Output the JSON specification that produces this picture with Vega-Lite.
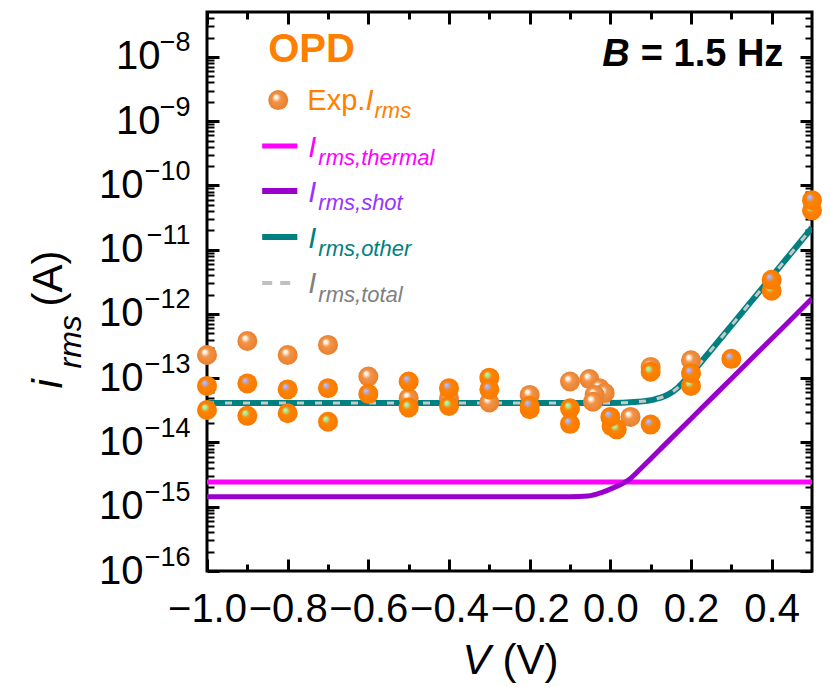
{
  "$schema": "https://vega.github.io/schema/vega-lite/v6.json",
  "width": 605,
  "height": 559,
  "autosize": "none",
  "padding": {"left": 207, "top": 12, "right": 19, "bottom": 116},
  "background": "white",
  "config": {
    "font": "Liberation Sans",
    "view": {"stroke": "black", "strokeWidth": 3},
    "axis": {"labelColor": "black", "titleColor": "black", "tickColor": "black", "grid": false, "domain": false, "labelFont": "Liberation Sans", "titleFont": "Liberation Sans", "titleFontWeight": "normal"}
  },
  "datasets": {
    "lines": [
      {"series": "thermal", "V": -1.0, "I": 2.42e-15},
      {"series": "thermal", "V": 0.5, "I": 2.42e-15},
      {"series": "shot", "V": -1.0, "I": 1.43e-15},
      {"series": "shot", "V": -0.1, "I": 1.43e-15},
      {"series": "shot", "V": -0.055, "I": 1.47e-15},
      {"series": "shot", "V": -0.022, "I": 1.66e-15},
      {"series": "shot", "V": 0.01, "I": 2.0e-15},
      {"series": "shot", "V": 0.045, "I": 2.6e-15},
      {"series": "shot", "V": 0.077, "I": 4.0e-15},
      {"series": "shot", "V": 0.144, "I": 1.05e-14},
      {"series": "shot", "V": 0.226, "I": 3.4e-14},
      {"series": "shot", "V": 0.308, "I": 1.1e-13},
      {"series": "shot", "V": 0.425, "I": 5.9e-13},
      {"series": "shot", "V": 0.5, "I": 1.74e-12},
      {"series": "other", "V": -1.0, "I": 4.1e-14},
      {"series": "other", "V": 0.0, "I": 4.12e-14},
      {"series": "other", "V": 0.06, "I": 4.27e-14},
      {"series": "other", "V": 0.11, "I": 4.7e-14},
      {"series": "other", "V": 0.144, "I": 5.6e-14},
      {"series": "other", "V": 0.168, "I": 7.2e-14},
      {"series": "other", "V": 0.19, "I": 1.0e-13},
      {"series": "other", "V": 0.21, "I": 1.38e-13},
      {"series": "other", "V": 0.25, "I": 2.75e-13},
      {"series": "other", "V": 0.3, "I": 6.6e-13},
      {"series": "other", "V": 0.4, "I": 3.8e-12},
      {"series": "other", "V": 0.5, "I": 2.2e-11},
      {"series": "total", "V": -1.0, "I": 4.1e-14},
      {"series": "total", "V": 0.0, "I": 4.12e-14},
      {"series": "total", "V": 0.06, "I": 4.27e-14},
      {"series": "total", "V": 0.11, "I": 4.7e-14},
      {"series": "total", "V": 0.144, "I": 5.6e-14},
      {"series": "total", "V": 0.168, "I": 7.2e-14},
      {"series": "total", "V": 0.19, "I": 1.0e-13},
      {"series": "total", "V": 0.21, "I": 1.38e-13},
      {"series": "total", "V": 0.25, "I": 2.75e-13},
      {"series": "total", "V": 0.3, "I": 6.6e-13},
      {"series": "total", "V": 0.4, "I": 3.8e-12},
      {"series": "total", "V": 0.5, "I": 2.2e-11}
    ],
    "balls": [
      {"type": "w", "V": -1.0, "I": 2.3e-13},
      {"type": "b", "V": -1.0, "I": 7.6e-14},
      {"type": "g", "V": -1.0, "I": 3.2e-14},
      {"type": "w", "V": -0.9, "I": 3.8e-13},
      {"type": "b", "V": -0.9, "I": 8.3e-14},
      {"type": "g", "V": -0.9, "I": 2.6e-14},
      {"type": "w", "V": -0.8, "I": 2.3e-13},
      {"type": "b", "V": -0.8, "I": 6.7e-14},
      {"type": "g", "V": -0.8, "I": 2.85e-14},
      {"type": "w", "V": -0.7, "I": 3.3e-13},
      {"type": "b", "V": -0.7, "I": 7.0e-14},
      {"type": "g", "V": -0.7, "I": 2.1e-14},
      {"type": "w", "V": -0.6, "I": 1.06e-13},
      {"type": "b", "V": -0.6, "I": 5.7e-14},
      {"type": "b", "V": -0.5, "I": 8.9e-14},
      {"type": "w", "V": -0.5, "I": 4.9e-14},
      {"type": "g", "V": -0.5, "I": 3.5e-14},
      {"type": "b", "V": -0.4, "I": 7.0e-14},
      {"type": "w", "V": -0.4, "I": 4.9e-14},
      {"type": "g", "V": -0.4, "I": 3.7e-14},
      {"type": "g", "V": -0.3, "I": 1.02e-13},
      {"type": "b", "V": -0.3, "I": 6.7e-14},
      {"type": "w", "V": -0.3, "I": 4.2e-14},
      {"type": "w", "V": -0.2, "I": 5.5e-14},
      {"type": "b", "V": -0.2, "I": 3.7e-14},
      {"type": "g", "V": -0.2, "I": 3.3e-14},
      {"type": "w", "V": -0.1, "I": 8.9e-14},
      {"type": "g", "V": -0.1, "I": 3.4e-14},
      {"type": "b", "V": -0.1, "I": 1.95e-14},
      {"type": "w", "V": -0.052, "I": 9.7e-14},
      {"type": "w", "V": -0.027, "I": 7.0e-14},
      {"type": "w", "V": -0.014, "I": 5.9e-14},
      {"type": "w", "V": -0.039, "I": 5.5e-14},
      {"type": "w", "V": -0.043, "I": 4.3e-14},
      {"type": "w", "V": 0.05, "I": 2.5e-14},
      {"type": "g", "V": 0.003, "I": 1.8e-14},
      {"type": "g", "V": 0.016, "I": 1.6e-14},
      {"type": "b", "V": 0.0, "I": 2.5e-14},
      {"type": "b", "V": 0.1, "I": 1.9e-14},
      {"type": "w", "V": 0.1, "I": 1.5e-13},
      {"type": "g", "V": 0.1, "I": 1.26e-13},
      {"type": "w", "V": 0.2, "I": 1.9e-13},
      {"type": "g", "V": 0.2, "I": 7.6e-14},
      {"type": "b", "V": 0.2, "I": 1.2e-13},
      {"type": "b", "V": 0.3, "I": 2.0e-13},
      {"type": "g", "V": 0.4, "I": 2.3e-12},
      {"type": "b", "V": 0.4, "I": 3.4e-12},
      {"type": "g", "V": 0.5, "I": 4.1e-11},
      {"type": "b", "V": 0.5, "I": 5.9e-11}
    ]
  },
  "resolve": {"axis": {"x": "independent", "y": "independent"}},
  "layer": [
    {
      "data": {"name": "lines"},
      "transform": [{"filter": "datum.series === 'thermal'"}],
      "mark": {"type": "line", "color": "#FF00FF", "strokeWidth": 5, "clip": true},
      "encoding": {
        "x": {"field": "V", "type": "quantitative", "scale": {"domain": [-1.0, 0.5], "nice": false, "zero": false},
          "axis": {"orient": "bottom", "values": [-1, -0.8, -0.6, -0.4, -0.2, 0, 0.2, 0.4], "labelExpr": "format(datum.value, '.1f')", "ticks": false, "labelFontSize": 40, "labelPadding": 18, "labelFlush": false, "labelOverlap": false, "title": "V", "titleFontSize": 42, "titleFontStyle": "italic", "titleAlign": "left", "titleBaseline": "alphabetic", "titleAngle": 0, "titleX": 255, "titleY": 102}},
        "y": {"field": "I", "type": "quantitative", "scale": {"type": "log", "domain": [1e-16, 5e-8], "nice": false},
          "axis": {"orient": "left", "values": [1e-16, 1e-15, 1e-14, 1e-13, 1e-12, 1e-11, 1e-10, 1e-9, 1e-8], "labelExpr": "'10'", "ticks": false, "labelFontSize": 40, "labelPadding": {"condition": {"test": "datum.value >= 1e-9", "value": 47}, "value": 64}, "labelOverlap": false, "labelFlush": false, "title": "(A)", "titleFontSize": 42, "titleAlign": "left", "titleBaseline": "alphabetic", "titleAngle": 270, "titleX": -146, "titleY": 294}}
      }
    },
    {
      "data": {"name": "lines"},
      "transform": [{"filter": "datum.series === 'shot'"}],
      "mark": {"type": "line", "color": "#9900CC", "strokeWidth": 5, "interpolate": "monotone", "clip": true},
      "encoding": {
        "x": {"field": "V", "type": "quantitative", "scale": {"domain": [-1.0, 0.5], "nice": false, "zero": false},
          "axis": {"orient": "bottom", "values": [-1, -0.8, -0.6, -0.4, -0.2, 0, 0.2, 0.4], "labels": false, "ticks": true, "tickSize": 12, "tickWidth": 3, "offset": -12, "title": "(V)", "titleFontSize": 42, "titleAlign": "left", "titleBaseline": "alphabetic", "titleAngle": 0, "titleX": 295, "titleY": 114}},
        "y": {"field": "I", "type": "quantitative", "scale": {"type": "log", "domain": [1e-16, 5e-8], "nice": false},
          "axis": {"orient": "left", "values": [1e-16, 1e-15, 1e-14, 1e-13, 1e-12, 1e-11, 1e-10, 1e-9, 1e-8], "labelExpr": "'\u2212' + format(-log(datum.value)/LN10, '.0f')", "ticks": false, "labelFontSize": 27, "labelPadding": 17, "labelOffset": -14, "labelAlign": "right", "labelOverlap": false, "labelFlush": false, "title": "rms", "titleFontSize": 32, "titleFontStyle": "italic", "titleAlign": "left", "titleBaseline": "alphabetic", "titleAngle": 270, "titleX": -127, "titleY": 356}}
      }
    },
    {
      "data": {"name": "lines"},
      "transform": [{"filter": "datum.series === 'other'"}],
      "mark": {"type": "line", "color": "#008080", "strokeWidth": 6, "interpolate": "monotone", "clip": true},
      "encoding": {
        "x": {"field": "V", "type": "quantitative", "scale": {"domain": [-1.0, 0.5], "nice": false, "zero": false},
          "axis": {"orient": "bottom", "values": [-0.9, -0.7, -0.5, -0.3, -0.1, 0.1, 0.3], "labels": false, "ticks": true, "tickSize": 7, "tickWidth": 3, "offset": -7, "title": null}},
        "y": {"field": "I", "type": "quantitative", "scale": {"type": "log", "domain": [1e-16, 5e-8], "nice": false},
          "axis": {"orient": "left", "values": [1e-16, 1e-15, 1e-14, 1e-13, 1e-12, 1e-11, 1e-10, 1e-9, 1e-8], "labels": false, "ticks": true, "tickSize": 12, "tickWidth": 3, "offset": -12, "title": "i", "titleFontSize": 42, "titleFontStyle": "italic", "titleAlign": "left", "titleBaseline": "alphabetic", "titleAngle": 270, "titleX": -158, "titleY": 376}}
      }
    },
    {
      "data": {"name": "lines"},
      "transform": [{"filter": "datum.series === 'total'"}],
      "mark": {"type": "line", "color": "#C8C8C8", "strokeWidth": 3, "strokeDash": [7, 11], "interpolate": "monotone", "clip": true},
      "encoding": {
        "x": {"field": "V", "type": "quantitative", "scale": {"domain": [-1.0, 0.5], "nice": false, "zero": false},
          "axis": {"orient": "top", "values": [-1, -0.8, -0.6, -0.4, -0.2, 0, 0.2, 0.4], "labels": false, "ticks": true, "tickSize": 12, "tickWidth": 3, "offset": -12, "title": null}},
        "y": {"field": "I", "type": "quantitative", "scale": {"type": "log", "domain": [1e-16, 5e-8], "nice": false},
          "axis": {"orient": "left", "values": [2e-16, 3e-16, 4e-16, 5e-16, 6e-16, 7e-16, 8e-16, 9e-16, 2e-15, 3e-15, 4e-15, 5e-15, 6e-15, 7e-15, 8e-15, 9e-15, 2e-14, 3e-14, 4e-14, 5e-14, 6e-14, 7e-14, 8e-14, 9e-14, 2e-13, 3e-13, 4e-13, 5e-13, 6e-13, 7e-13, 8e-13, 9e-13, 2e-12, 3e-12, 4e-12, 5e-12, 6e-12, 7e-12, 8e-12, 9e-12, 2e-11, 3e-11, 4e-11, 5e-11, 6e-11, 7e-11, 8e-11, 9e-11, 2e-10, 3e-10, 4e-10, 5e-10, 6e-10, 7e-10, 8e-10, 9e-10, 2e-9, 3e-9, 4e-9, 5e-9, 6e-9, 7e-9, 8e-9, 9e-9, 2e-8, 3e-8, 4e-8], "labels": false, "ticks": true, "tickSize": 7, "tickWidth": 2, "offset": -7, "title": null}}
      }
    },
    {
      "data": {"name": "balls"},
      "transform": [{"filter": "datum.type === 'w'"}],
      "mark": {"type": "circle", "size": 400, "opacity": 1, "clip": false, "fill": {"gradient": "radial", "x1": 0.36, "y1": 0.32, "r1": 0, "x2": 0.5, "y2": 0.5, "r2": 0.5, "stops": [{"offset": 0, "color": "#FFFFFF"}, {"offset": 0.15, "color": "#FFF4EA"}, {"offset": 0.42, "color": "#F29448"}, {"offset": 1, "color": "#E97F2C"}]}},
      "encoding": {
        "x": {"field": "V", "type": "quantitative", "scale": {"domain": [-1.0, 0.5], "nice": false, "zero": false},
          "axis": {"orient": "top", "values": [-0.9, -0.7, -0.5, -0.3, -0.1, 0.1, 0.3], "labels": false, "ticks": true, "tickSize": 7, "tickWidth": 3, "offset": -7, "title": null}},
        "y": {"field": "I", "type": "quantitative", "scale": {"type": "log", "domain": [1e-16, 5e-8], "nice": false},
          "axis": {"orient": "right", "values": [1e-16, 1e-15, 1e-14, 1e-13, 1e-12, 1e-11, 1e-10, 1e-9, 1e-8], "labels": false, "ticks": true, "tickSize": 12, "tickWidth": 3, "offset": -12, "title": null}}
      }
    },
    {
      "data": {"name": "balls"},
      "transform": [{"filter": "datum.type === 'g'"}],
      "mark": {"type": "circle", "size": 400, "opacity": 1, "clip": false, "fill": {"gradient": "radial", "x1": 0.36, "y1": 0.32, "r1": 0, "x2": 0.5, "y2": 0.5, "r2": 0.5, "stops": [{"offset": 0, "color": "#B8FFB0"}, {"offset": 0.17, "color": "#A8EE98"}, {"offset": 0.42, "color": "#FF8200"}, {"offset": 1, "color": "#F87A00"}]}},
      "encoding": {
        "x": {"field": "V", "type": "quantitative", "scale": {"domain": [-1.0, 0.5], "nice": false, "zero": false}, "axis": null},
        "y": {"field": "I", "type": "quantitative", "scale": {"type": "log", "domain": [1e-16, 5e-8], "nice": false},
          "axis": {"orient": "right", "values": [2e-16, 3e-16, 4e-16, 5e-16, 6e-16, 7e-16, 8e-16, 9e-16, 2e-15, 3e-15, 4e-15, 5e-15, 6e-15, 7e-15, 8e-15, 9e-15, 2e-14, 3e-14, 4e-14, 5e-14, 6e-14, 7e-14, 8e-14, 9e-14, 2e-13, 3e-13, 4e-13, 5e-13, 6e-13, 7e-13, 8e-13, 9e-13, 2e-12, 3e-12, 4e-12, 5e-12, 6e-12, 7e-12, 8e-12, 9e-12, 2e-11, 3e-11, 4e-11, 5e-11, 6e-11, 7e-11, 8e-11, 9e-11, 2e-10, 3e-10, 4e-10, 5e-10, 6e-10, 7e-10, 8e-10, 9e-10, 2e-9, 3e-9, 4e-9, 5e-9, 6e-9, 7e-9, 8e-9, 9e-9, 2e-8, 3e-8, 4e-8], "labels": false, "ticks": true, "tickSize": 7, "tickWidth": 2, "offset": -7, "title": null}}
      }
    },
    {
      "data": {"name": "balls"},
      "transform": [{"filter": "datum.type === 'b'"}],
      "mark": {"type": "circle", "size": 400, "opacity": 1, "clip": false, "fill": {"gradient": "radial", "x1": 0.36, "y1": 0.32, "r1": 0, "x2": 0.5, "y2": 0.5, "r2": 0.5, "stops": [{"offset": 0, "color": "#C4C8FF"}, {"offset": 0.17, "color": "#ABAEF0"}, {"offset": 0.42, "color": "#FF8200"}, {"offset": 1, "color": "#F87A00"}]}},
      "encoding": {
        "x": {"field": "V", "type": "quantitative", "scale": {"domain": [-1.0, 0.5], "nice": false, "zero": false}, "axis": null},
        "y": {"field": "I", "type": "quantitative", "scale": {"type": "log", "domain": [1e-16, 5e-8], "nice": false}, "axis": null}
      }
    },
    {
      "data": {"values": [{}]},
      "mark": {"type": "circle", "size": 400, "opacity": 1, "fill": {"gradient": "radial", "x1": 0.36, "y1": 0.32, "r1": 0, "x2": 0.5, "y2": 0.5, "r2": 0.5, "stops": [{"offset": 0, "color": "#FFFFFF"}, {"offset": 0.15, "color": "#FFF4EA"}, {"offset": 0.42, "color": "#F29448"}, {"offset": 1, "color": "#E97F2C"}]}},
      "encoding": {"x": {"datum": -0.8234, "axis": null}, "y": {"datum": 2.13e-9, "axis": null}}
    },
    {
      "data": {"values": [{}]},
      "mark": {"type": "rule", "color": "#FF00FF", "strokeWidth": 5},
      "encoding": {"x": {"datum": -0.8632, "axis": null}, "x2": {"datum": -0.7761}, "y": {"datum": 4.1e-10, "axis": null}}
    },
    {
      "data": {"values": [{}]},
      "mark": {"type": "rule", "color": "#9900CC", "strokeWidth": 6},
      "encoding": {"x": {"datum": -0.8632, "axis": null}, "x2": {"datum": -0.7761}, "y": {"datum": 8.18e-11, "axis": null}}
    },
    {
      "data": {"values": [{}]},
      "mark": {"type": "rule", "color": "#008080", "strokeWidth": 6},
      "encoding": {"x": {"datum": -0.8632, "axis": null}, "x2": {"datum": -0.7761}, "y": {"datum": 1.57e-11, "axis": null}}
    },
    {
      "data": {"values": [{}]},
      "mark": {"type": "rule", "color": "#C0C0C0", "strokeWidth": 4, "strokeDash": [10, 8]},
      "encoding": {"x": {"datum": -0.8632, "axis": null}, "x2": {"datum": -0.7761}, "y": {"datum": 3.03e-12, "axis": null}}
    },
    {
      "data": {"values": [{}]},
      "mark": {"type": "text", "text": "OPD", "fontSize": 40, "fontWeight": "bold", "color": "#FF8000", "align": "left", "baseline": "alphabetic"},
      "encoding": {"x": {"datum": -0.8483, "axis": null}, "y": {"datum": 8.34e-9, "axis": null}}
    },
    {
      "data": {"values": [{}]},
      "mark": {"type": "text", "text": "B", "fontSize": 38, "fontWeight": "bold", "fontStyle": "italic", "color": "black", "align": "left", "baseline": "alphabetic"},
      "encoding": {"x": {"datum": -0.0199, "axis": null}, "y": {"datum": 7.21e-9, "axis": null}}
    },
    {
      "data": {"values": [{}]},
      "mark": {"type": "text", "text": "= 1.5 Hz", "fontSize": 38, "fontWeight": "bold", "color": "black", "align": "left", "baseline": "alphabetic"},
      "encoding": {"x": {"datum": 0.0755, "axis": null}, "y": {"datum": 7.21e-9, "axis": null}}
    },
    {
      "data": {"values": [{}]},
      "mark": {"type": "text", "text": "Exp.", "fontSize": 29, "color": "#FF8000", "align": "left", "baseline": "alphabetic"},
      "encoding": {"x": {"datum": -0.7512, "axis": null}, "y": {"datum": 1.49e-9, "axis": null}}
    },
    {
      "data": {"values": [{}]},
      "mark": {"type": "text", "text": "I", "fontSize": 29, "fontStyle": "italic", "color": "#FF8000", "align": "left", "baseline": "alphabetic"},
      "encoding": {"x": {"datum": -0.607, "axis": null}, "y": {"datum": 1.49e-9, "axis": null}}
    },
    {
      "data": {"values": [{}]},
      "mark": {"type": "text", "text": "rms", "fontSize": 22, "fontStyle": "italic", "color": "#FF8000", "align": "left", "baseline": "alphabetic"},
      "encoding": {"x": {"datum": -0.5846, "axis": null}, "y": {"datum": 1.12e-9, "axis": null}}
    },
    {
      "data": {"values": [{}]},
      "mark": {"type": "text", "text": "I", "fontSize": 29, "fontStyle": "italic", "color": "#FF00FF", "align": "left", "baseline": "alphabetic"},
      "encoding": {"x": {"datum": -0.7488, "axis": null}, "y": {"datum": 2.77e-10, "axis": null}}
    },
    {
      "data": {"values": [{}]},
      "mark": {"type": "text", "text": "rms,thermal", "fontSize": 22, "fontStyle": "italic", "color": "#FF00FF", "align": "left", "baseline": "alphabetic"},
      "encoding": {"x": {"datum": -0.7239, "axis": null}, "y": {"datum": 2.08e-10, "axis": null}}
    },
    {
      "data": {"values": [{}]},
      "mark": {"type": "text", "text": "I", "fontSize": 29, "fontStyle": "italic", "color": "#9933FF", "align": "left", "baseline": "alphabetic"},
      "encoding": {"x": {"datum": -0.7488, "axis": null}, "y": {"datum": 5.52e-11, "axis": null}}
    },
    {
      "data": {"values": [{}]},
      "mark": {"type": "text", "text": "rms,shot", "fontSize": 22, "fontStyle": "italic", "color": "#9933FF", "align": "left", "baseline": "alphabetic"},
      "encoding": {"x": {"datum": -0.7239, "axis": null}, "y": {"datum": 4.14e-11, "axis": null}}
    },
    {
      "data": {"values": [{}]},
      "mark": {"type": "text", "text": "I", "fontSize": 29, "fontStyle": "italic", "color": "#008080", "align": "left", "baseline": "alphabetic"},
      "encoding": {"x": {"datum": -0.7488, "axis": null}, "y": {"datum": 1.06e-11, "axis": null}}
    },
    {
      "data": {"values": [{}]},
      "mark": {"type": "text", "text": "rms,other", "fontSize": 22, "fontStyle": "italic", "color": "#008080", "align": "left", "baseline": "alphabetic"},
      "encoding": {"x": {"datum": -0.7239, "axis": null}, "y": {"datum": 7.96e-12, "axis": null}}
    },
    {
      "data": {"values": [{}]},
      "mark": {"type": "text", "text": "I", "fontSize": 29, "fontStyle": "italic", "color": "#808080", "align": "left", "baseline": "alphabetic"},
      "encoding": {"x": {"datum": -0.7488, "axis": null}, "y": {"datum": 2.12e-12, "axis": null}}
    },
    {
      "data": {"values": [{}]},
      "mark": {"type": "text", "text": "rms,total", "fontSize": 22, "fontStyle": "italic", "color": "#808080", "align": "left", "baseline": "alphabetic"},
      "encoding": {"x": {"datum": -0.7239, "axis": null}, "y": {"datum": 1.53e-12, "axis": null}}
    }
  ]
}
